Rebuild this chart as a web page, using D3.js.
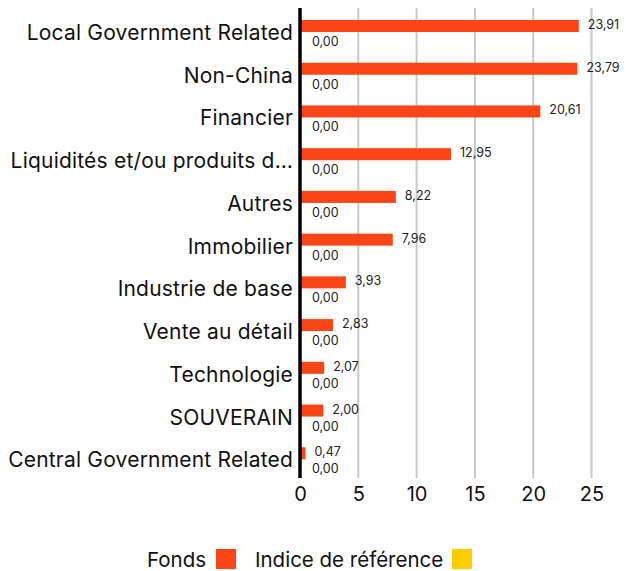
<!DOCTYPE html>
<html>
<head>
<meta charset="utf-8">
<script src="https://cdn.jsdelivr.net/npm/d3@7"></script>
<style>
  body { margin: 0; background: #fff; }
  svg { font-family: Inter, "Open Sans", sans-serif; }
</style>
</head>
<body>
<div id="chart"></div>
<script>
const categories = [
  'Local Government Related', 'Non-China', 'Financier', 'Liquidités et/ou produits d…',
  'Autres', 'Immobilier', 'Industrie de base', 'Vente au détail', 'Technologie',
  'SOUVERAIN', 'Central Government Related'
];
const fondsValues = [23.91, 23.79, 20.61, 12.95, 8.22, 7.96, 3.93, 2.83, 2.07, 2.00, 0.47];
const indexValues = [0, 0, 0, 0, 0, 0, 0, 0, 0, 0, 0];
const xTicks = [0, 5, 10, 15, 20, 25];
const seriesNames = ['Fonds', 'Indice de référence'];
const seriesColors = ['#fc4516', '#ffcc00'];

const fmt = v => v.toFixed(2).replace('.', ',');

const W = 626, H = 571;
const margin = { top: 8, right: 30, bottom: 93, left: 300 };
const width = W - margin.left - margin.right;
const height = H - margin.top - margin.bottom;

const svg = d3.select('#chart').append('svg')
  .attr('width', W).attr('height', H)
  .append('g')
  .attr('transform', `translate(${margin.left},${margin.top})`);

// x scale
const x = d3.scaleLinear().domain([0, 25]).range([0, 291.5]);

// y band scale
const y = d3.scaleBand().domain(categories).range([0, height]);

// gridlines
svg.append('g')
  .selectAll('line')
  .data(xTicks.filter(t => t > 0))
  .enter().append('line')
  .attr('x1', d => x(d)).attr('x2', d => x(d))
  .attr('y1', 0).attr('y2', height)
  .attr('stroke', '#c8c8c8')
  .attr('stroke-width', 2);

// x tick labels
svg.append('g')
  .attr('transform', `translate(0,${height})`)
  .call(d3.axisBottom(x).tickValues(xTicks).tickSize(0).tickPadding(9).tickFormat(d3.format('d')))
  .call(g => g.select('.domain').remove())
  .selectAll('text')
  .attr('fill', '#111')
  .style('font-size', '20px')
  .style('font-family', 'Inter, sans-serif');

// category labels
svg.append('g')
  .selectAll('text')
  .data(categories)
  .enter().append('text')
  .attr('x', -7)
  .attr('y', d => y(d) + 32)
  .attr('text-anchor', 'end')
  .attr('fill', '#111')
  .style('font-size', '21px')
  .style('letter-spacing', '0.2px')
  .text(d => d);

const barH = 12;
const barOff = 12;

// fonds bars
svg.append('g')
  .selectAll('rect')
  .data(fondsValues)
  .enter().append('rect')
  .attr('x', x(0))
  .attr('y', (d, i) => y(categories[i]) + barOff)
  .attr('width', d => x(d) - x(0))
  .attr('height', barH)
  .attr('fill', seriesColors[0]);

// index bars
svg.append('g')
  .selectAll('rect')
  .data(indexValues)
  .enter().append('rect')
  .attr('x', x(0))
  .attr('y', (d, i) => y(categories[i]) + barOff + barH)
  .attr('width', d => x(d) - x(0))
  .attr('height', barH)
  .attr('fill', seriesColors[1]);

// fonds labels
svg.append('g')
  .selectAll('text')
  .data(fondsValues)
  .enter().append('text')
  .attr('x', d => x(d) + 9)
  .attr('y', (d, i) => y(categories[i]) + barOff + 9)
  .attr('fill', '#222')
  .style('font-size', '12.5px')
  .text(d => fmt(d));

// index labels
svg.append('g')
  .selectAll('text')
  .data(indexValues)
  .enter().append('text')
  .attr('x', d => x(d) + 12)
  .attr('y', (d, i) => y(categories[i]) + barOff + barH + 14)
  .attr('fill', '#222')
  .style('font-size', '12.5px')
  .text(d => fmt(d));

// zero axis line
svg.append('line')
  .attr('x1', x(0)).attr('x2', x(0))
  .attr('y1', 0).attr('y2', height)
  .attr('stroke', '#000')
  .attr('stroke-width', 3.5);

// legend
const legend = d3.select('svg').append('g').attr('transform', `translate(0,567)`);
const legendItems = [
  { name: seriesNames[0], color: seriesColors[0], tx: 147, rx: 216 },
  { name: seriesNames[1], color: seriesColors[1], tx: 255, rx: 452 }
];
legendItems.forEach(it => {
  legend.append('text')
    .attr('x', it.tx).attr('y', 0)
    .attr('fill', '#111')
    .style('font-size', '20.5px')
    .style('font-family', 'Inter, sans-serif')
    .text(it.name);
  legend.append('rect')
    .attr('x', it.rx).attr('y', -18)
    .attr('width', 20).attr('height', 20)
    .attr('fill', it.color);
});
</script>
</body>
</html>
